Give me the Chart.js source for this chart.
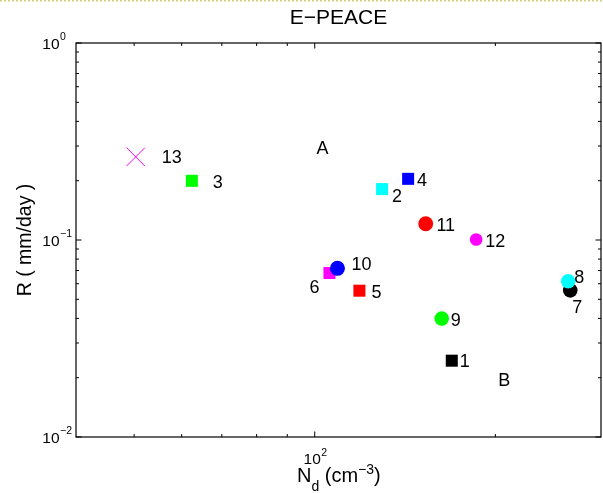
<!DOCTYPE html>
<html>
<head>
<meta charset="utf-8">
<script src="https://cdn.jsdelivr.net/npm/chart.js@4.4.0/dist/chart.umd.min.js"></script>
<style>
  html, body { margin: 0; padding: 0; background: #fff; }
  canvas { display: block; }
</style>
</head>
<body>
<canvas id="c" width="603" height="493"></canvas>
<script>
// E-PEACE cases: droplet number concentration vs. rain rate
const caseIds     = ['1', '2', '3', '4', '5', '6', '7', '8', '9', '10', '11', '12', '13'];
const dropletConc = [169.2, 129.5, 62.4, 143.1, 118.7, 105.8, 266.6, 264.5, 162.8, 109.1, 153.1, 185.8, 50.3];
const rainRate    = [0.0244, 0.1813, 0.1997, 0.2044, 0.0553, 0.0680, 0.0555, 0.0617, 0.0399, 0.0718, 0.1209, 0.1006, 0.2642];

// regime annotations
const regionNames = ['A', 'B'];
const regionConc  = [103, 207];
const regionRate  = [0.2935, 0.01956];

// axis ticks
const xMajorTicks = [100];
const xMajorExp   = ['2'];
const xMinorTicks = [50, 60, 70, 80, 90, 200];
const yMajorTicks = [0.01, 0.1, 1];
const yMajorExp   = ['\u22122', '\u22121', '0'];
const yMinorTicks = [0.02, 0.03, 0.04, 0.05, 0.06, 0.07, 0.08, 0.09, 0.2, 0.3, 0.4, 0.5, 0.6, 0.7, 0.8, 0.9];

// marker styles per case
const markerColor = ['#000000', '#00ffff', '#00ff00', '#0000ff', '#ff0000', '#ff00ff',
                     '#000000', '#00ffff', '#00ff00', '#0000ff', '#ff0000', '#ff00ff', '#ff00ff'];
const markerShape = ['rect', 'rect', 'rect', 'rect', 'rect', 'rect',
                     'circle', 'circle', 'circle', 'circle', 'circle', 'circle', 'crossRot'];
const markerSize  = [8.5, 8.5, 8.5, 8.5, 8.5, 8.5, 7.3, 7.2, 7.3, 7.5, 7.4, 6.3, 13];
const markerEdge  = [0, 0, 0, 0, 0, 0, 0, 0, 0, 0, 0, 0, 1];
// label placement relative to each marker (px)
const labelShift = [[13, 0], [15, 6], [26, 1], [14, 1], [17, 1], [-15, 14],
                    [7, 16], [11, -5], [14, 1], [24, -5], [20, 1], [19, 1], [36, 0]];

const FONT = "'Liberation Sans', Arial, Helvetica, sans-serif";

const axesPlugin = {
  id: 'axesPlugin',
  beforeDraw(chart) {
    const ctx = chart.ctx;
    ctx.save();
    ctx.fillStyle = '#fff';
    ctx.fillRect(0, 0, chart.width, chart.height);
    // dotted border along the top edge
    ctx.strokeStyle = 'rgb(214,206,120)';
    ctx.lineWidth = 1.5;
    ctx.setLineDash([2, 2]);
    ctx.beginPath();
    ctx.moveTo(0, 0.75);
    ctx.lineTo(chart.width, 0.75);
    ctx.stroke();
    ctx.restore();
  },
  beforeDatasetsDraw(chart) {
    const { ctx, chartArea: a, scales: { x, y } } = chart;
    ctx.save();
    ctx.strokeStyle = '#000';
    ctx.lineWidth = 1.2;
    ctx.strokeRect(a.left, a.top, a.right - a.left, a.bottom - a.top);

    const tick = (px, len, horizontal) => {
      ctx.beginPath();
      if (horizontal) {
        ctx.moveTo(px, a.bottom); ctx.lineTo(px, a.bottom - len);
        ctx.moveTo(px, a.top);    ctx.lineTo(px, a.top + len);
      } else {
        ctx.moveTo(a.left, px);  ctx.lineTo(a.left + len, px);
        ctx.moveTo(a.right, px); ctx.lineTo(a.right - len, px);
      }
      ctx.stroke();
    };
    ctx.lineWidth = 1;
    xMinorTicks.forEach(v => tick(x.getPixelForValue(v), 3, true));
    xMajorTicks.forEach(v => tick(x.getPixelForValue(v), 5.5, true));
    yMinorTicks.forEach(v => tick(y.getPixelForValue(v), 3, false));
    yMajorTicks.forEach(v => tick(y.getPixelForValue(v), 5.5, false));

    // tick labels 10^n
    ctx.fillStyle = '#000';
    ctx.textBaseline = 'alphabetic';
    yMajorTicks.forEach((v, i) => {
      const py = y.getPixelForValue(v);
      ctx.font = '15.5px ' + FONT;
      ctx.textAlign = 'right';
      ctx.fillText('10', 59.5, py + 5.5);
      ctx.font = '10.5px ' + FONT;
      ctx.textAlign = 'left';
      ctx.fillText(yMajorExp[i], 60, py - 3);
    });
    xMajorTicks.forEach((v, i) => {
      const px = x.getPixelForValue(v);
      ctx.font = '15.5px ' + FONT;
      ctx.textAlign = 'right';
      ctx.fillText('10', px + 6, 463.5);
      ctx.font = '10.5px ' + FONT;
      ctx.textAlign = 'left';
      ctx.fillText(xMajorExp[i], px + 6.5, 456);
    });

    // x axis title: N_d (cm^-3)
    ctx.textAlign = 'left';
    let cx = 297;
    const base = 482;
    const part = (txt, size, dy) => {
      ctx.font = size + 'px ' + FONT;
      ctx.fillText(txt, cx, base + dy);
      cx += ctx.measureText(txt).width;
    };
    part('N', 20, 0);
    part('d', 14, 9);
    part(' (cm', 20, 0);
    part('\u22123', 14, -8);
    part(')', 20, 0);

    // y axis title
    ctx.save();
    ctx.translate(31, (a.top + a.bottom) / 2);
    ctx.rotate(-Math.PI / 2);
    ctx.font = '19.5px ' + FONT;
    ctx.textAlign = 'center';
    ctx.fillText('R ( mm/day )', 0, 0);
    ctx.restore();
    ctx.restore();
  },
  afterDatasetsDraw(chart) {
    const { ctx, scales: { x, y } } = chart;
    const meta = chart.getDatasetMeta(0);
    ctx.save();
    ctx.fillStyle = '#000';
    ctx.font = '18px ' + FONT;
    ctx.textAlign = 'center';
    ctx.textBaseline = 'alphabetic';
    meta.data.forEach((pt, i) => {
      const [dx, dy] = labelShift[i];
      ctx.fillText(caseIds[i], pt.x + dx, pt.y + dy + 6.5);
    });
    regionNames.forEach((name, i) => {
      ctx.fillText(name, x.getPixelForValue(regionConc[i]), y.getPixelForValue(regionRate[i]) + 6.5);
    });
    ctx.restore();
  }
};

new Chart(document.getElementById('c'), {
  type: 'scatter',
  data: {
    labels: caseIds,
    datasets: [{
      data: dropletConc.map((v, i) => ({ x: v, y: rainRate[i] })),
      pointStyle: markerShape,
      pointRadius: markerSize,
      pointBackgroundColor: markerColor,
      pointBorderColor: markerColor,
      pointBorderWidth: markerEdge,
      showLine: false,
      clip: false
    }]
  },
  options: {
    responsive: false,
    animation: false,
    devicePixelRatio: 1,
    events: [],
    layout: { autoPadding: false, padding: { left: 76, right: 2, bottom: 56, top: 0 } },
    scales: {
      x: { type: 'logarithmic', min: 40, max: 300, display: false },
      y: { type: 'logarithmic', min: 0.01, max: 1, display: false }
    },
    plugins: {
      legend: { display: false },
      tooltip: { enabled: false },
      title: {
        display: true,
        text: 'E\u2212PEACE',
        color: '#000',
        font: { family: FONT, size: 21, weight: 'normal', lineHeight: 1.2 },
        padding: { top: 6, bottom: 11.8 }
      }
    }
  },
  plugins: [axesPlugin]
});
</script>
</body>
</html>
